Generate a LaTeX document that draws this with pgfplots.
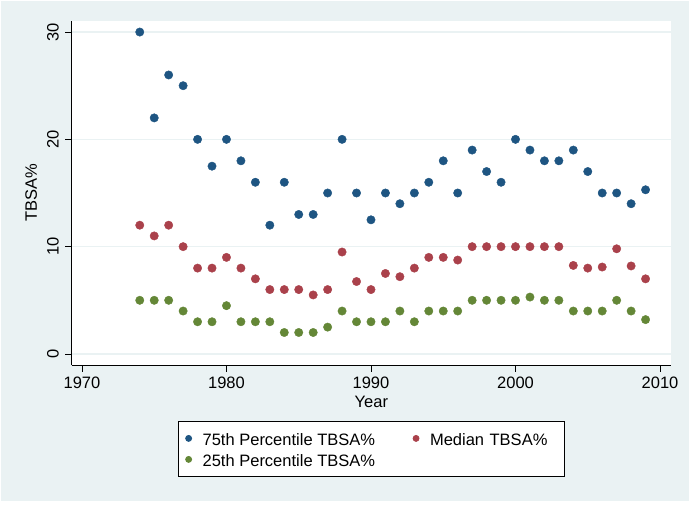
\documentclass[border=0pt]{standalone}
\usepackage{fontspec}
\setmainfont{Liberation Sans}
\usepackage{pgfplots}
\pgfplotsset{compat=1.18}
\definecolor{bgc}{RGB}{234,242,243}
\definecolor{c75}{RGB}{30,85,130}
\definecolor{cmed}{RGB}{170,65,75}
\definecolor{c25}{RGB}{100,135,55}
\newcommand{\fnt}{\fontsize{16.5}{19}\selectfont}

\begin{document}
\begin{tikzpicture}
\path (-71.7pt,-141pt) rectangle (621.3pt,365pt);
\fill[bgc] (-70.7pt,-136pt) rectangle (617.3pt,364pt);
\begin{axis}[
    scale only axis,
    width=599.3pt, height=344pt,
    xmin=1969.29, xmax=2010.76,
    ymin=-1.03, ymax=31.03,
    axis background/.style={fill=white},
    axis x line*=bottom, axis y line*=left,
    axis line style={-, black, line width=0.8pt},
    tick align=outside, major tick length=6.5pt,
    tick style={black, line width=0.8pt},
    xtick={1970,1980,1990,2000,2010},
    ytick={0,10,20,30},
    ymajorgrids,
    grid style={color=bgc, line width=1.2pt},
    yticklabel style={rotate=90, anchor=south},
    yticklabel shift=3pt,
    xticklabel shift=1.5pt,
    ylabel shift=3pt,
    xlabel shift=1.5pt,
    tick label style={font=\fnt},
    label style={font=\fnt},
    /pgf/number format/assume math mode=true,
    /pgf/number format/1000 sep={},
    xlabel={Year}, ylabel={TBSA\%},
    legend columns=2,
    legend style={at={(0.5,-0.1628)}, anchor=north, draw=black, fill=white,
        line width=0.8pt, font=\fnt, inner xsep=4pt, inner ysep=10pt,
        row sep=7pt,
        nodes={inner sep=0pt, text height=14pt, text depth=0pt},
        /tikz/every odd column/.append style={column sep=6pt},
        /tikz/every even column/.append style={column sep=35pt},
        /tikz/column 4/.style={nodes={text width=130pt, align=left}}},
    legend cell align=left,
    legend image code/.code={
        \path[draw=none, fill=none] (0pt,-7pt) rectangle (14pt,7pt);
        \draw[#1, mark size=3pt] plot coordinates {(6pt,0pt)};
    },
    clip=false,
]
\addplot[only marks, mark=*, mark size=4.2pt, mark options={draw=c75, fill=c75}] coordinates {
(1974,30) (1975,22) (1976,26) (1977,25) (1978,20) (1979,17.5) (1980,20) (1981,18)
(1982,16) (1983,12) (1984,16) (1985,13) (1986,13) (1987,15) (1988,20) (1989,15)
(1990,12.5) (1991,15) (1992,14) (1993,15) (1994,16) (1995,18) (1996,15) (1997,19)
(1998,17) (1999,16) (2000,20) (2001,19) (2002,18) (2003,18) (2004,19) (2005,17)
(2006,15) (2007,15) (2008,14) (2009,15.3)
};
\addlegendentry{75th Percentile TBSA\%}
\addplot[only marks, mark=*, mark size=4.2pt, mark options={draw=cmed, fill=cmed}] coordinates {
(1974,12) (1975,11) (1976,12) (1977,10) (1978,8) (1979,8) (1980,9) (1981,8)
(1982,7) (1983,6) (1984,6) (1985,6) (1986,5.5) (1987,6) (1988,9.5) (1989,6.75)
(1990,6) (1991,7.5) (1992,7.2) (1993,8) (1994,9) (1995,9) (1996,8.75) (1997,10)
(1998,10) (1999,10) (2000,10) (2001,10) (2002,10) (2003,10) (2004,8.25) (2005,8)
(2006,8.1) (2007,9.8) (2008,8.2) (2009,7)
};
\addlegendentry{Median TBSA\%}
\addplot[only marks, mark=*, mark size=4.2pt, mark options={draw=c25, fill=c25}] coordinates {
(1974,5) (1975,5) (1976,5) (1977,4) (1978,3) (1979,3) (1980,4.5) (1981,3)
(1982,3) (1983,3) (1984,2) (1985,2) (1986,2) (1987,2.5) (1988,4) (1989,3)
(1990,3) (1991,3) (1992,4) (1993,3) (1994,4) (1995,4) (1996,4) (1997,5)
(1998,5) (1999,5) (2000,5) (2001,5.3) (2002,5) (2003,5) (2004,4) (2005,4)
(2006,4) (2007,5) (2008,4) (2009,3.2)
};
\addlegendentry{25th Percentile TBSA\%}
\end{axis}
\end{tikzpicture}
\end{document}
